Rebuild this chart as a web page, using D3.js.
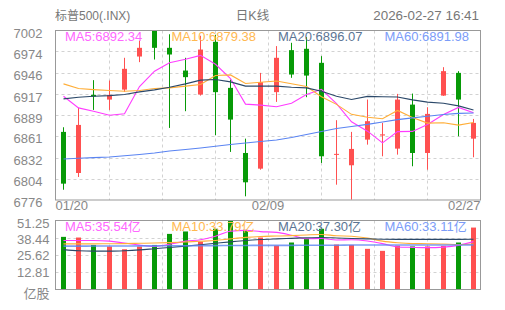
<!DOCTYPE html>
<html>
<head>
<meta charset="utf-8">
<script src="https://cdn.jsdelivr.net/npm/d3@7"></script>
<style>
  body { margin: 0; background: #fff; }
  svg text { font-family: "Liberation Sans", Arial, "Noto Sans CJK SC", sans-serif; }
</style>
</head>
<body>
<div id="chart-container"></div>
<script>

const title = '标普500(.INX)';
const period = '日K线';
const stamp = '2026-02-27 16:41';

const dates = ['01/20', '01/21', '01/22', '01/23', '01/26', '01/27', '01/28', '01/29', '01/30',
    '02/02', '02/03', '02/04', '02/05', '02/06', '02/09', '02/10', '02/11', '02/12', '02/13',
    '02/17', '02/18', '02/19', '02/20', '02/23', '02/24', '02/25', '02/26', '02/27'];

const open  = [6866.8, 6812.0, 6916.2, 6909.9, 6923.2, 6967.3, 7001.5, 6978.9, 6948.6, 6916.6,
    6986.9, 6925.5, 6838.7, 6817.8, 6919.8, 6975.8, 6977.6, 6958.9, 6836.5, 6822.3,
    6856.5, 6862.0, 6844.5, 6903.2, 6838.7, 6915.2, 6945.5, 6857.8];
const high  = [6873.0, 6898.8, 6935.8, 6935.3, 6965.6, 6988.7, 7002.0, 6997.0, 6965.6, 6995.0,
    6996.3, 6936.6, 6857.8, 6945.5, 6981.2, 6985.6, 6993.2, 6967.8, 6882.4, 6866.8,
    6909.9, 6878.8, 6917.5, 6917.9, 6899.7, 6953.1, 6947.8, 6884.1];
const low   = [6789.7, 6806.7, 6896.1, 6896.1, 6920.2, 6959.8, 6963.3, 6872.1, 6894.4, 6915.2,
    6862.4, 6840.1, 6780.9, 6816.4, 6906.8, 6938.9, 6913.1, 6825.4, 6796.4, 6776.4,
    6849.8, 6834.3, 6836.5, 6821.0, 6816.4, 6914.8, 6861.0, 6833.0];
const close = [6797.8, 6876.1, 6913.9, 6916.2, 6950.9, 6978.9, 6978.9, 6970.0, 6939.8, 6976.6,
    6919.8, 6883.2, 6799.6, 6933.1, 6965.6, 6943.3, 6941.9, 6834.3, 6837.5, 6844.1,
    6881.1, 6863.5, 6909.9, 6838.7, 6890.8, 6947.8, 6909.9, 6878.8];

const ma5  = [6914.4, 6898.8, 6894.4, 6889.1, 6891.0, 6927.2, 6947.8, 6959.0, 6963.7, 6968.8,
    6957.0, 6937.9, 6903.8, 6902.5, 6900.3, 6905.0, 6916.7, 6923.6, 6904.5, 6880.2,
    6867.8, 6852.1, 6867.2, 6867.5, 6876.8, 6890.1, 6899.4, 6892.3];
const ma10 = [6930.8, 6924.6, 6923.2, 6921.9, 6921.1, 6921.9, 6924.6, 6925.5, 6927.8, 6929.9,
    6942.1, 6942.8, 6931.4, 6933.1, 6934.6, 6931.0, 6927.3, 6913.7, 6903.5, 6890.2,
    6886.4, 6884.4, 6895.4, 6886.0, 6878.5, 6879.0, 6875.8, 6879.4];
const ma20 = [6910.8, 6913.1, 6914.4, 6915.2, 6916.6, 6920.2, 6922.8, 6926.4, 6930.8, 6935.8,
    6936.6, 6933.5, 6927.8, 6927.8, 6927.8, 6926.4, 6925.5, 6921.1, 6914.4, 6910.1,
    6914.2, 6913.6, 6913.4, 6909.5, 6906.5, 6905.0, 6901.5, 6896.1];
const ma60 = [6830.7, 6831.7, 6832.5, 6833.4, 6835.0, 6836.7, 6838.7, 6841.4, 6843.4, 6845.4,
    6847.7, 6850.1, 6852.1, 6854.1, 6856.1, 6859.4, 6863.4, 6867.4, 6871.4, 6874.1,
    6876.8, 6880.1, 6883.2, 6885.5, 6887.7, 6889.9, 6891.5, 6892.0];

const volume = [39.1, 38.6, 33.1, 31.9, 29.9, 31.9, 33.1, 41.3, 43.1, 35.6,
    45.1, 51.25, 44.3, 38.6, 32.6, 34.9, 38.1, 45.1, 33.4, 33.1,
    30.2, 28.7, 32.6, 32.0, 32.0, 32.4, 34.9, 46.0];
const volMa5  = [36.4, 36.4, 36.4, 35.9, 34.5, 33.1, 32.0, 33.6, 35.9, 37.0,
    39.6, 43.3, 43.9, 43.0, 42.4, 40.3, 37.7, 37.9, 36.8, 36.9,
    36.0, 34.1, 31.6, 31.3, 31.1, 31.5, 32.8, 35.54];
const volMa10 = [33.9, 33.9, 33.9, 34.0, 34.1, 34.3, 34.5, 34.8, 35.3, 35.8,
    36.4, 37.6, 38.7, 39.4, 39.7, 40.0, 40.5, 40.9, 39.9, 39.6,
    38.2, 35.9, 34.7, 34.1, 34.0, 33.8, 33.4, 33.79];
const volMa20 = [29.6, 28.8, 28.5, 28.5, 28.8, 29.4, 30.3, 31.2, 32.2, 33.2,
    34.3, 35.4, 36.4, 37.1, 37.6, 38.0, 38.4, 38.6, 38.3, 37.9,
    37.6, 37.3, 37.2, 37.2, 37.2, 37.2, 37.2, 37.3];
const volMa60 = [32.2, 32.2, 32.3, 32.3, 32.3, 32.4, 32.4, 32.5, 32.5, 32.6,
    32.6, 32.7, 32.7, 32.8, 32.8, 32.8, 32.9, 32.9, 32.9, 33.0,
    33.0, 33.0, 33.0, 33.1, 33.1, 33.1, 33.1, 33.11];

const priceTicks = [7002, 6974, 6946, 6917, 6889, 6861, 6832, 6804, 6776];
const volTicks = [51.25, 38.44, 25.62, 12.81];
const volUnit = '亿股';
const xLabels = ['01/20', '02/09', '02/27'];

const priceLegend = ['MA5:6892.34', 'MA10:6879.38', 'MA20:6896.07', 'MA60:6891.98'];
const volLegend = ['MA5:35.54亿', 'MA10:33.79亿', 'MA20:37.30亿', 'MA60:33.11亿'];

const lineColors = ['#ff3cff', '#ffae38', '#2b4869', '#5a84f2'];
const textColors = ['#ff66ff', '#ffb84f', '#5b7594', '#7b9cf8'];
const up = '#ff5050';
const down = '#079a07';

const width = 505, height = 310;
const box = { left: 55.5, right: 480.5, top: 30.5, bottom: 200 };
const vbox = { top: 220.5, bottom: 289.5 };

const svg = d3
    .select('#chart-container')
    .append('svg')
    .attr('width', width)
    .attr('height', height);

const x = d3.scaleBand().domain(dates).range([box.left, box.right]);
const cx = d => Math.round(x(d) + x.bandwidth() / 2);
const y = d3.scaleLinear().domain([6776, 7002]).range([box.bottom, box.top]);
const yText = d3.scaleLinear().domain([6776, 7002]).range([206.7, 38.3]);
const yVol = d3.scaleLinear().domain([0, 51.25]).range([vbox.bottom, vbox.top]);
const yVolText = d3.scaleLinear().domain([12.81, 51.25]).range([276.6, 227.7]);
const col = d3.scaleLinear().domain([0, 8]).range([box.left, box.right]);

// header
const header = svg.append('g').attr('fill', '#777');
header.append('text').attr('x', 55).attr('y', 20).attr('font-size', 12).text(title);
header.append('text').attr('x', 252.5).attr('y', 20).attr('font-size', 12.5).attr('text-anchor', 'middle').text(period);
header.append('text').attr('x', 479).attr('y', 20).attr('font-size', 13.4).attr('text-anchor', 'end').text(stamp);

// grids
const drawGrid = (top, bottom, hLines) => {
    const g = svg.append('g')
        .attr('stroke', '#d2d2d2')
        .attr('stroke-dasharray', '3,3')
        .attr('stroke-width', 1);
    g.selectAll('line.h')
        .data(hLines)
        .enter()
        .append('line')
        .attr('x1', box.left)
        .attr('x2', box.right)
        .attr('y1', d => Math.round(d) + 0.5)
        .attr('y2', d => Math.round(d) + 0.5);
    g.selectAll('line.v')
        .data(d3.range(1, 8))
        .enter()
        .append('line')
        .attr('x1', k => Math.round(col(k)) + 0.5)
        .attr('x2', k => Math.round(col(k)) + 0.5)
        .attr('y1', top)
        .attr('y2', bottom);
};
drawGrid(box.top, box.bottom, priceTicks.slice(1, -1).map(y));
drawGrid(vbox.top, vbox.bottom, volTicks.slice(1).map(yVol));

// axis labels
const labels = svg.append('g').attr('fill', '#888').attr('font-size', 13);
labels.selectAll('text.p')
    .data(priceTicks)
    .enter()
    .append('text')
    .attr('x', 42.5)
    .attr('y', d => yText(d))
    .attr('text-anchor', 'end')
    .text(d => d);
labels.selectAll('text.v')
    .data(volTicks)
    .enter()
    .append('text')
    .attr('x', 49.5)
    .attr('y', d => yVolText(d))
    .attr('text-anchor', 'end')
    .text(d => d.toFixed(2));
labels.append('text')
    .attr('x', 49.5)
    .attr('y', vbox.bottom + 8)
    .attr('text-anchor', 'end')
    .text(volUnit);
labels.selectAll('text.x')
    .data(xLabels)
    .enter()
    .append('text')
    .attr('x', (d, i) => [box.left, (box.left + box.right) / 2, box.right][i])
    .attr('y', 210)
    .attr('text-anchor', (d, i) => ['start', 'middle', 'end'][i])
    .text(d => d);

// candles
const candles = svg.append('g');
const rows = dates.map((d, i) => ({ d, o: open[i], h: high[i], l: low[i], c: close[i], v: volume[i] }));
candles.selectAll('line')
    .data(rows)
    .enter()
    .append('line')
    .attr('x1', r => cx(r.d) + 0.5)
    .attr('x2', r => cx(r.d) + 0.5)
    .attr('y1', r => y(r.h))
    .attr('y2', r => y(r.l))
    .attr('stroke', r => r.c >= r.o ? up : down)
    .attr('stroke-width', 1);
candles.selectAll('rect')
    .data(rows)
    .enter()
    .append('rect')
    .attr('x', r => cx(r.d) - 2)
    .attr('width', 5)
    .attr('y', r => y(Math.max(r.o, r.c)))
    .attr('height', r => Math.max(1, Math.abs(y(r.o) - y(r.c))))
    .attr('fill', r => r.c >= r.o ? up : down);

// volume bars
svg.append('g')
    .selectAll('rect')
    .data(rows)
    .enter()
    .append('rect')
    .attr('x', r => cx(r.d) - 2)
    .attr('width', 5)
    .attr('y', r => yVol(r.v))
    .attr('height', r => vbox.bottom - yVol(r.v))
    .attr('fill', r => r.c >= r.o ? up : down);

// moving averages
const priceLine = d3.line().x((v, i) => cx(dates[i]) + 0.5).y(v => y(v));
[ma5, ma10, ma20, ma60].forEach((s, k) => {
    svg.append('path')
        .datum(s)
        .attr('fill', 'none')
        .attr('stroke', lineColors[k])
        .attr('stroke-width', 1.1)
        .attr('d', priceLine);
});
const volLine = d3.line().x((v, i) => cx(dates[i]) + 0.5).y(v => yVol(v)).curve(d3.curveMonotoneX);
[volMa5, volMa10, volMa20, volMa60].forEach((s, k) => {
    svg.append('path')
        .datum(s)
        .attr('fill', 'none')
        .attr('stroke', lineColors[k])
        .attr('stroke-width', k === 3 ? 1.6 : 1.1)
        .attr('stroke-opacity', k === 3 ? 0.8 : 1)
        .attr('d', volLine);
});

// frames
[[box.top, box.bottom], [vbox.top, vbox.bottom]].forEach(([t, b]) => {
    svg.append('rect')
        .attr('x', box.left)
        .attr('y', t)
        .attr('width', box.right - box.left)
        .attr('height', b - t)
        .attr('fill', 'none')
        .attr('stroke', '#999')
        .attr('stroke-width', 1);
});

// legends
const drawLegend = (items, baseline) => {
    svg.append('g')
        .attr('font-size', 13)
        .selectAll('text')
        .data(items)
        .enter()
        .append('text')
        .attr('x', (d, i) => 65 + i * 106.5)
        .attr('y', baseline)
        .attr('fill', (d, i) => textColors[i])
        .text(d => d);
};
drawLegend(priceLegend, box.top + 10.3);
drawLegend(volLegend, vbox.top + 10.8);

</script>
</body>
</html>
